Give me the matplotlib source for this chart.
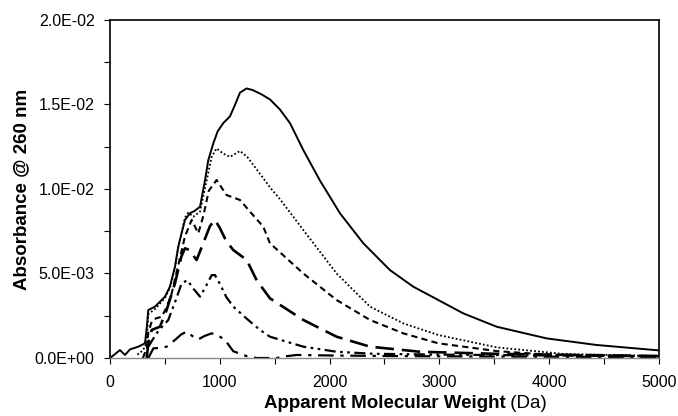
import numpy as np
import matplotlib
matplotlib.use('Agg')
import matplotlib.pyplot as plt
from matplotlib.ticker import MultipleLocator, FormatStrFormatter

plt.rcParams.update({
    'font.family': ['Liberation Sans', 'DejaVu Sans'],
    'font.size': 11.5,
})

# Apparent molecular weight (Da) and absorbance (x1e-3)
mw_1 = [0, 40, 91, 137, 182, 258, 319, 335, 349, 410, 501, 546, 592, 622, 683, 729,
        770, 820, 865, 895, 941, 980, 1032, 1093, 1140, 1184, 1245, 1300, 1380, 1457,
        1548, 1639, 1761, 1912, 2095, 2307, 2550, 2762, 2990, 3218, 3522, 3977, 4432, 5000]
abs_1 = [0, 0.2, 0.47, 0.18, 0.51, 0.67, 0.87, 1.8, 2.84, 3.04, 3.63, 4.22, 5.4, 6.6, 8.17, 8.57,
         8.7, 8.95, 10.5, 11.7, 12.7, 13.4, 13.9, 14.3, 15.0, 15.7, 15.95, 15.85, 15.6, 15.3,
         14.7, 13.9, 12.3, 10.5, 8.56, 6.79, 5.2, 4.22, 3.43, 2.64, 1.85, 1.16, 0.77, 0.45]

mw_2 = [250, 300, 335, 349, 410, 501, 546, 592, 622, 683, 713, 759, 820, 880, 926, 971,
        1030, 1093, 1184, 1250, 1366, 1457, 1548, 1761, 2064, 2368, 2671, 2990, 3522,
        4130, 5000]
abs_2 = [0.2, 0.45, 0.9, 2.6, 2.9, 3.55, 4.15, 5.35, 6.55, 8.3, 8.6, 8.36, 8.66, 10.5, 11.9, 12.4,
         12.1, 11.9, 12.25, 11.9, 10.9, 10.1, 9.4, 7.57, 5.0, 3.04, 2.05, 1.36, 0.63,
         0.24, 0.12]

mw_3 = [300, 335, 349, 380, 420, 471, 516, 562, 622, 683, 744, 804, 850, 900, 971,
        1062, 1184, 1275, 1396, 1457, 1761, 2064, 2368, 2671, 2990, 3522, 3977, 5000]
abs_3 = [0, 0.6, 1.5, 2.15, 2.35, 2.44, 3.0, 3.83, 5.5, 7.2, 8.17, 7.38, 8.4, 9.9, 10.53,
         9.64, 9.35, 8.66, 7.77, 6.79, 5.0, 3.43, 2.25, 1.46, 0.87, 0.41, 0.2, 0.1]

mw_4 = [334, 350, 380, 455, 516, 592, 650, 683, 720, 789, 850, 910, 956, 1000, 1060,
        1123, 1245, 1336, 1457, 1761, 2064, 2368, 2823, 3500, 4200, 5000]
abs_4 = [0, 0.9, 1.66, 1.85, 2.84, 4.42, 6.0, 6.49, 6.4, 5.8, 6.8, 7.8, 8.17, 7.7, 6.9,
         6.39, 5.8, 4.6, 3.53, 2.25, 1.26, 0.67, 0.37, 0.25, 0.18, 0.12]

mw_5 = [349, 400, 440, 531, 592, 653, 705, 760, 820, 870, 926, 956, 1000, 1060, 1123,
        1250, 1366, 1457, 1761, 2064, 2400, 3000, 4000, 5000]
abs_5 = [0.67, 1.2, 1.6, 2.25, 3.3, 4.42, 4.6, 4.1, 3.63, 4.2, 4.9, 4.91, 4.4, 3.6, 3.04,
         2.3, 1.66, 1.26, 0.67, 0.37, 0.25, 0.2, 0.15, 0.1]

mw_6 = [349, 395, 460, 516, 592, 650, 698, 750, 804, 860, 926, 980, 1047, 1123, 1250,
        1336, 1518, 1600, 1700, 2000, 2500, 3000, 4000, 5000]
abs_6 = [0, 0.57, 0.6, 0.67, 1.07, 1.4, 1.56, 1.3, 1.1, 1.3, 1.46, 1.35, 1.07, 0.4, 0.1,
         0, 0, 0.1, 0.18, 0.15, 0.12, 0.1, 0.08, 0.05]

series = [
    (mw_1, abs_1, '-', 1.4),
    (mw_2, abs_2, (0, (1, 1.2)), 1.3),
    (mw_3, abs_3, (0, (3, 2)), 1.5),
    (mw_4, abs_4, (0, (7, 3)), 1.9),
    (mw_5, abs_5, (0, (5, 2, 1.2, 2, 1.2, 2)), 1.6),
    (mw_6, abs_6, (0, (7, 3, 1.5, 3)), 1.6),
]

fig = plt.figure(figsize=(6.78, 4.16), dpi=100)
ax = fig.add_axes([0.1622, 0.1394, 0.8098, 0.8126])

for mw, ab, ls, lw in series:
    ax.plot(mw, np.array(ab) * 1e-3, color='black', linestyle=ls, linewidth=lw)

ax.set_xlim(0, 5000)
ax.set_ylim(0, 0.02)
ax.xaxis.set_major_locator(MultipleLocator(1000))
ax.xaxis.set_minor_locator(MultipleLocator(500))
ax.yaxis.set_major_locator(MultipleLocator(0.005))
ax.yaxis.set_minor_locator(MultipleLocator(0.0025))
ax.yaxis.set_major_formatter(FormatStrFormatter('%.1E'))
ax.tick_params(axis='both', which='both', direction='out', length=4, width=0.8, colors='black')
ax.tick_params(axis='y', pad=7)
ax.tick_params(axis='x', pad=8)
for side in ['left', 'right', 'top']:
    ax.spines[side].set_linewidth(1.2)
ax.spines['bottom'].set_color('#888888')
ax.spines['bottom'].set_linewidth(1.0)

ax.set_ylabel('Absorbance @ 260 nm', fontweight='bold', fontsize=13.5, labelpad=3)
xl = ax.text(0.5, -0.11, 'Apparent Molecular Weight', transform=ax.transAxes,
             ha='center', va='top', fontweight='bold', fontsize=13.5)
ax.annotate(' (Da)', xy=(1, 0), xycoords=xl, ha='left', va='bottom', fontsize=13.5)

fig.savefig('out.png', dpi=100)
